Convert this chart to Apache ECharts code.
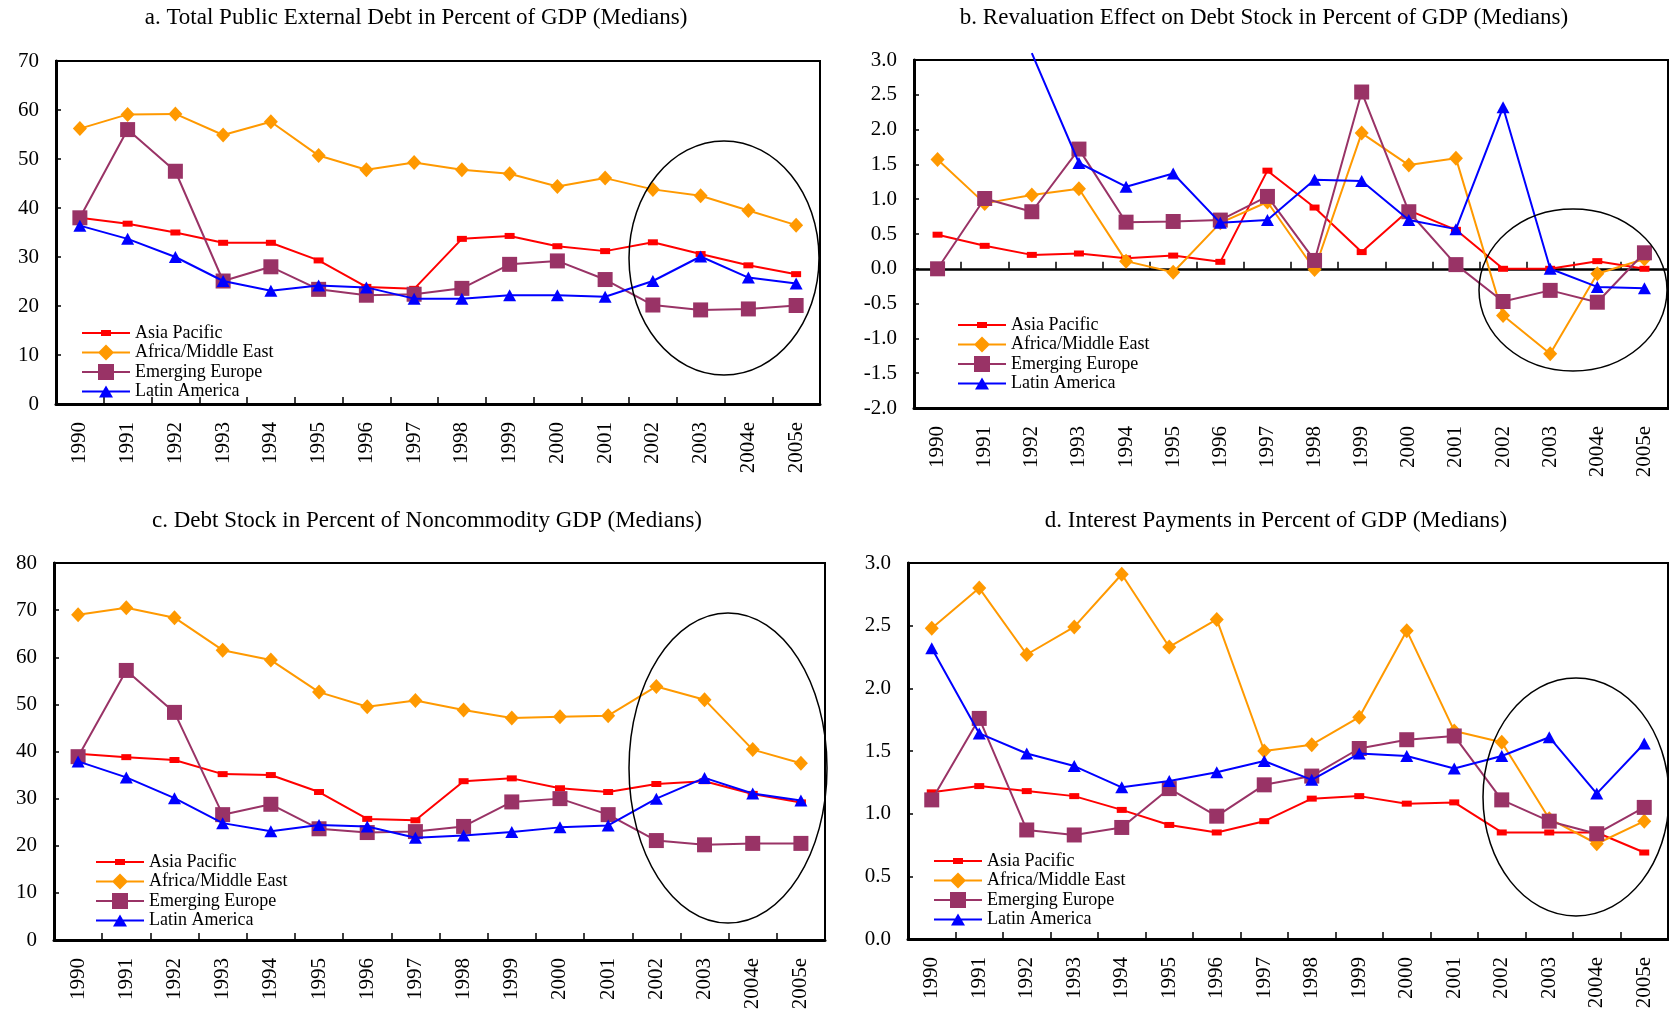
<!DOCTYPE html>
<html>
<head>
<meta charset="utf-8">
<script src="https://cdn.jsdelivr.net/npm/echarts@6/dist/echarts.min.js"></script>
<style>
html,body{margin:0;padding:0;background:#fff;}
#chart{width:1669px;height:1016px;}
</style>
</head>
<body>
<div id="chart"></div>
<script>
// ---------- DATA ----------
const categories = ['1990','1991','1992','1993','1994','1995','1996','1997','1998','1999','2000','2001','2002','2003','2004e','2005e'];
const seriesNames = ['Asia Pacific','Africa/Middle East','Emerging Europe','Latin America'];

const titles = [
  'a. Total Public External Debt in Percent of GDP (Medians)',
  'b. Revaluation Effect on Debt Stock in Percent of GDP (Medians)',
  'c. Debt Stock in Percent of Noncommodity GDP (Medians)',
  'd. Interest Payments in Percent of GDP (Medians)'
];

// Panel a
const aAsia   = [38.0,36.8,35.0,32.9,32.9,29.3,23.9,23.5,33.7,34.3,32.2,31.2,33.0,30.6,28.3,26.5];
const aAfrica = [56.2,59.1,59.2,54.9,57.6,50.7,47.8,49.3,47.8,47.0,44.4,46.1,43.8,42.5,39.5,36.5];
const aEurope = [38.0,56.0,47.5,25.1,28.0,23.4,22.2,22.4,23.6,28.5,29.2,25.4,20.2,19.2,19.4,20.1];
const aLatam  = [36.4,33.7,30.0,25.1,23.1,24.2,23.8,21.5,21.5,22.2,22.2,21.9,25.1,30.1,25.8,24.6];
const aTicks  = [0,10,20,30,40,50,60,70];

// Panel b
const bAsia   = [0.49,0.33,0.20,0.22,0.15,0.19,0.10,1.41,0.88,0.24,0.84,0.56,0.00,0.00,0.11,0.00];
const bAfrica = [1.57,0.94,1.06,1.15,0.11,-0.05,0.66,0.96,-0.01,1.95,1.49,1.59,-0.67,-1.22,-0.07,0.14];
const bEurope = [0.00,1.01,0.82,1.72,0.67,0.68,0.70,1.04,0.12,2.54,0.82,0.06,-0.47,-0.31,-0.48,0.23];
const bLatam  = [null,null,3.1,1.52,1.18,1.37,0.66,0.70,1.28,1.26,0.70,0.57,2.32,0.00,-0.26,-0.28];
const bTicks  = [-2.0,-1.5,-1.0,-0.5,0.0,0.5,1.0,1.5,2.0,2.5,3.0];

// Panel c
const cAsia   = [39.5,38.8,38.2,35.2,35.0,31.4,25.7,25.4,33.7,34.3,32.2,31.4,33.1,33.7,31.0,29.2];
const cAfrica = [69.0,70.5,68.4,61.5,59.4,52.6,49.5,50.8,48.8,47.1,47.4,47.6,53.8,51.0,40.4,37.5];
const cEurope = [38.9,57.2,48.3,26.6,28.8,23.6,22.8,23.0,24.1,29.3,30.0,26.6,21.1,20.2,20.5,20.5];
const cLatam  = [37.9,34.5,30.1,24.8,23.1,24.4,24.1,21.7,22.2,22.9,23.9,24.3,30.0,34.4,31.1,29.6];
const cTicks  = [0,10,20,30,40,50,60,70,80];

// Panel d
const dAsia   = [1.17,1.22,1.18,1.14,1.03,0.91,0.85,0.94,1.12,1.14,1.08,1.09,0.85,0.85,0.85,0.69];
const dAfrica = [2.48,2.80,2.27,2.49,2.91,2.33,2.55,1.50,1.55,1.77,2.46,1.66,1.57,0.96,0.76,0.94];
const dEurope = [1.11,1.76,0.87,0.83,0.89,1.20,0.98,1.23,1.30,1.52,1.59,1.62,1.11,0.94,0.84,1.05];
const dLatam  = [2.32,1.64,1.48,1.38,1.21,1.26,1.33,1.42,1.27,1.48,1.46,1.36,1.46,1.61,1.16,1.56];
const dTicks  = [0.0,0.5,1.0,1.5,2.0,2.5,3.0];

// ---------- STYLE / LAYOUT ----------
const FONT = '"Liberation Serif","Times New Roman",serif';
const colors = ['#FF0000','#FF9900','#993366','#0000FF'];
const symbols = ['rect','diamond','rect','triangle'];
const symbolSizes = [[10,6],[14,15],[15,15],[13,12]];
// legend icons: line with marker in the middle (48 x 16 box)
const BAR = 'M0,7 L48,7 L48,9 L0,9 Z ';
const legendIcons = [
  'path://' + BAR + 'M19,5 L29,5 L29,11 L19,11 Z',
  'path://M0,0 L0.01,0 Z M0,16 L0.01,16 Z ' + BAR + 'M24,0 L32,8 L24,16 L16,8 Z',
  'path://' + BAR + 'M16,0 L32,0 L32,16 L16,16 Z',
  'path://M0,0 L0.01,0 Z M0,16 L0.01,16 Z ' + BAR + 'M24,2 L31,14 L17,14 Z'
];

const grids = [
  {left:56, top:61, width:764, height:343},
  {left:914, top:60, width:754, height:348},
  {left:54, top:563, width:771, height:377},
  {left:908, top:563, width:760, height:376}
];
const titlePos = [[416,18],[1264,18],[427,521],[1276,521]];
const legendPos = [[82,324],[958,316],[96,853],[934,852]];
const ellipses = [[724,258,95,117],[1573,290,94,81],[728,768,99,155],[1576,797,93,119]];

const panelData = [
  [aAsia,aAfrica,aEurope,aLatam],
  [bAsia,bAfrica,bEurope,bLatam],
  [cAsia,cAfrica,cEurope,cLatam],
  [dAsia,dAfrica,dEurope,dLatam]
];
const panelTicks = [aTicks,bTicks,cTicks,dTicks];
const decimals = [0,1,0,1];

const option = {
  animation:false,
  backgroundColor:'#fff',
  textStyle:{fontFamily:FONT},
  grid: grids.map(g => Object.assign({show:true, borderColor:'#000', borderWidth:2, containLabel:false}, g)),
  xAxis: [],
  yAxis: [],
  legend: [],
  series: [],
  graphic: []
};

const labelStyle = {fontFamily:FONT, fontSize:21, color:'#000'};

panelTicks.forEach((ticks, p) => {
  const yMin = ticks[0], yMax = ticks[ticks.length-1], step = ticks[1]-ticks[0];
  option.yAxis.push({
    type:'value', gridIndex:p, min:yMin, max:yMax, interval:step,
    axisLine:{show:true, lineStyle:{color:'#000', width:3}},
    axisTick:{show:true, inside:true, length:5, lineStyle:{color:'#000', width:1.5}},
    splitLine:{show:false},
    axisLabel:Object.assign({margin:17, formatter: v => Number(v).toFixed(decimals[p])}, labelStyle)
  });
});

grids.forEach((g, p) => {
  if (p === 1) {
    option.xAxis.push({
      type:'category', gridIndex:p, data:categories, position:'bottom',
      axisLine:{show:true, onZero:true, lineStyle:{color:'#000', width:2.5}},
      axisTick:{show:true, inside:true, length:7, alignWithLabel:false, lineStyle:{color:'#000', width:1.5}},
      axisLabel:{show:false}
    });
  } else {
    option.xAxis.push({
      type:'category', gridIndex:p, data:categories, position:'bottom',
      axisLine:{show:true, onZero:false, lineStyle:{color:'#000', width:3}},
      axisTick:{show:true, inside:true, length:7, alignWithLabel:false, lineStyle:{color:'#000', width:1.5}},
      axisLabel:Object.assign({rotate:90, margin:18, interval:0}, labelStyle)
    });
  }
});
option.xAxis.push({
  type:'category', gridIndex:1, data:categories, position:'bottom',
  axisLine:{show:true, onZero:false, lineStyle:{color:'#000', width:3}},
  axisTick:{show:false},
  axisLabel:Object.assign({rotate:90, margin:18, interval:0}, labelStyle)
});

panelData.forEach((arrs, p) => {
  arrs.forEach((arr, s) => {
    let data = arr;
    if (p === 1 && s === 3) {
      data = arr.map(v => (v !== null && v > 3) ? {value:v, symbol:'none'} : v);
    }
    option.series.push({
      type:'line', name:seriesNames[s], xAxisIndex:p, yAxisIndex:p,
      data:data,
      symbol:symbols[s], symbolSize:symbolSizes[s],
      showAllSymbol:true,
      clip: !(p === 1 && s === 3),
      lineStyle:{color:colors[s], width:2},
      itemStyle:{color:colors[s], borderWidth:0},
      emphasis:{disabled:true},
      z: 2 + s
    });
  });
  option.legend.push({
    show:true, orient:'vertical', left:legendPos[p][0], top:legendPos[p][1],
    padding:0, itemWidth:48, itemHeight:16, itemGap:1.5, selectedMode:false,
    textStyle:{fontFamily:FONT, fontSize:18, color:'#000'},
    data:seriesNames.map((n, s) => ({name:n, icon:legendIcons[s], itemStyle:{color:colors[s], borderWidth:0}}))
  });
  option.graphic.push({
    type:'text', x:titlePos[p][0], y:titlePos[p][1],
    style:{text:titles[p], fontFamily:FONT, fontSize:23, fill:'#000', textAlign:'center', textVerticalAlign:'middle'}
  });
  const e = ellipses[p];
  option.graphic.push({
    type:'ellipse', shape:{cx:e[0], cy:e[1], rx:e[2], ry:e[3]},
    style:{fill:'none', stroke:'#000', lineWidth:1.5}, z:100
  });
});

const chart = echarts.init(document.getElementById('chart'), null, {renderer:'canvas'});
chart.setOption(option);
</script>
</body>
</html>
